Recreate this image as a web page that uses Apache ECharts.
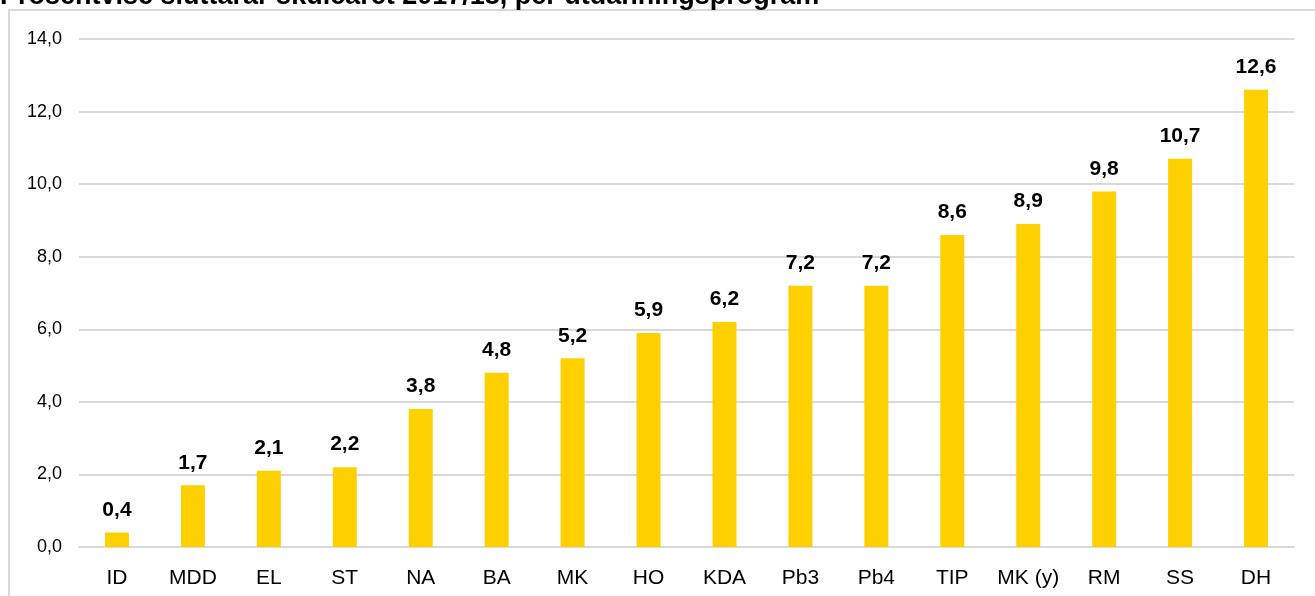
<!DOCTYPE html>
<html>
<head>
<meta charset="utf-8">
<script src="https://cdn.jsdelivr.net/npm/echarts@6/dist/echarts.min.js"></script>
<style>
  html, body { margin: 0; padding: 0; background: #fff; }
  #main { width: 1315px; height: 596px; }
</style>
</head>
<body>
<div id="main"></div>
<script>
// kategoriar og verdiar
const categories = ['ID', 'MDD', 'EL', 'ST', 'NA', 'BA', 'MK', 'HO', 'KDA', 'Pb3', 'Pb4', 'TIP', 'MK (y)', 'RM', 'SS', 'DH']
const values = [0.4, 1.7, 2.1, 2.2, 3.8, 4.8, 5.2, 5.9, 6.2, 7.2, 7.2, 8.6, 8.9, 9.8, 10.7, 12.6]
const titleText = 'Prosentvise sluttarar skuleåret 2017/18, per utdanningsprogram'

const fmt = v => Number(v).toFixed(1).replace('.', ',')

var myChart = echarts.init(document.getElementById('main'))
var option = {
    animation: false,
    textStyle: { fontFamily: 'Liberation Sans, Arial, sans-serif' },
    title: {
        text: titleText,
        left: -5,
        top: -22,
        padding: 5,
        textStyle: { fontSize: 27, fontWeight: 'bold', color: '#000' }
    },
    graphic: [{
        type: 'rect',
        shape: { x: 9, y: 10, width: 1320, height: 600 },
        style: { fill: 'none', stroke: '#d9d9d9', lineWidth: 2 },
        z: -1
    }],
    grid: { left: 79, right: 21, top: 39, bottom: 49 },
    xAxis: {
        type: 'category',
        data: categories,
        axisLine: { lineStyle: { color: '#d9d9d9', width: 2 } },
        axisTick: { show: false },
        axisLabel: { color: '#000', fontSize: 21, margin: 21, interval: 0 }
    },
    yAxis: {
        type: 'value',
        min: 0,
        max: 14,
        interval: 2,
        axisLine: { show: false },
        axisTick: { show: false },
        splitLine: { lineStyle: { color: '#d9d9d9', width: 2 } },
        axisLabel: { color: '#000', fontSize: 18, margin: 17, formatter: fmt }
    },
    series: [{
        type: 'bar',
        data: values,
        barWidth: 24,
        itemStyle: { color: '#ffd000' },
        label: {
            show: true,
            position: 'top',
            distance: 12,
            color: '#000',
            fontSize: 21,
            fontWeight: 'bold',
            formatter: p => fmt(p.value)
        }
    }]
}
myChart.setOption(option)
</script>
</body>
</html>
